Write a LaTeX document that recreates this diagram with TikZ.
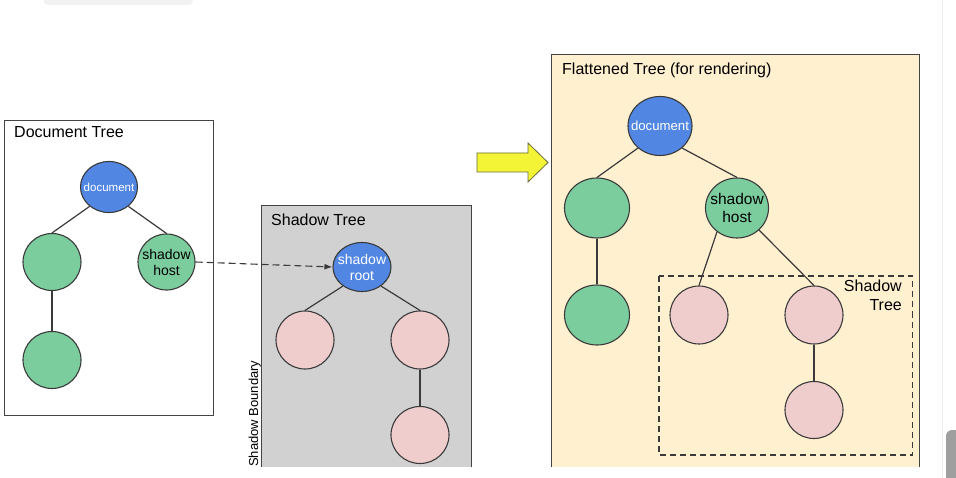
\documentclass[tikz,border=0pt]{standalone}
\usepackage{fontspec}
\setmainfont{Liberation Sans}
\usetikzlibrary{shapes.geometric,arrows.meta}
\definecolor{nodeblue}{HTML}{5187E2}
\definecolor{nodegreen}{HTML}{7CCD9E}
\definecolor{nodepink}{HTML}{EFCDCD}
\definecolor{shadowgray}{HTML}{D1D1D1}
\definecolor{flatyellow}{HTML}{FFF0D0}
\definecolor{linegray}{HTML}{3A3A3A}
\definecolor{panelgray}{HTML}{444444}
\definecolor{arrowyellow}{HTML}{F4F436}
\definecolor{arrowborder}{HTML}{6B6B3A}
\tikzset{
  treenode/.style={ellipse,draw=linegray,line width=1.1pt,inner sep=0pt},
  bluenode/.style={treenode,fill=nodeblue},
  greennode/.style={treenode,fill=nodegreen},
  pinknode/.style={treenode,fill=nodepink},
  edge/.style={draw=linegray,line width=1.2pt},
  panel/.style={draw=panelgray,line width=1pt},
  title/.style={anchor=base west,inner sep=0pt,font=\fontsize{16}{18}\selectfont},
}
\begin{document}
\begin{tikzpicture}[x=1pt,y=-1pt]
\useasboundingbox (0,0) rectangle (956,478);
\fill[white] (0,0) rectangle (956,478);
% screenshot artifacts
\fill[gray!10,rounded corners=4pt] (44,-6) rectangle (193,5);
\draw[gray!15,line width=1pt] (942.5,0) -- (942.5,478);
\fill[gray!75,rounded corners=6pt] (946,430) rectangle (970,490);

% Document tree panel
\draw[panel,fill=white] (4,121) rectangle (213,415);
\node[title] (tdoc) at (14,138) {Document Tree};
\node[bluenode,minimum width=57pt,minimum height=51pt] (d1) at (109,187) {};
\node[inner sep=0pt,text=white,font=\fontsize{11.5}{12}\selectfont] (d1t) at (d1.center) {document};
\node[greennode,minimum width=58pt,minimum height=57pt] (d2) at (52,262) {};
\node[greennode,minimum width=57pt,minimum height=56pt] (d3) at (166.5,262) {};
\node[inner sep=0pt,align=center,font=\fontsize{14}{16}\selectfont] (d3t) at (d3.center) {shadow\\host};
\node[greennode,minimum width=58pt,minimum height=57pt] (d4) at (52,360) {};
\draw[edge] (d1.225) -- (d2.north);
\draw[edge] (d1.-45) -- (d3.north);
\draw[edge] (d2.south) -- (d4.north);

% Shadow tree panel
\fill[shadowgray] (261.5,206) rectangle (471.5,467);
\draw[panel] (261.5,467) -- (261.5,206) -- (471.5,206) -- (471.5,467);
\node[title] (tsh) at (271,226) {Shadow Tree};
\node[rotate=90,anchor=base west,inner sep=0pt,font=\fontsize{13}{14}\selectfont] (bnd) at (258,467) {Shadow Boundary};
\node[bluenode,minimum width=58pt,minimum height=49pt] (s1) at (362,267) {};
\node[inner sep=0pt,align=center,text=white,font=\fontsize{14}{16}\selectfont] (s1t) at (s1.center) {shadow\\root};
\node[pinknode,minimum width=58pt,minimum height=58pt] (s2) at (305,340) {};
\node[pinknode,minimum width=58pt,minimum height=58pt] (s3) at (420,340) {};
\node[pinknode,minimum width=58pt,minimum height=57pt] (s4) at (420,435) {};
\draw[edge] (s1.225) -- (s2.north);
\draw[edge] (s1.-45) -- (s3.north);
\draw[edge] (s3.south) -- (s4.north);

% dashed link
\draw[linegray,line width=1.1pt,dash pattern=on 7pt off 4pt,-{Latex[length=8pt,width=6pt]}] (d3.east) -- (s1.west);

% yellow arrow
\draw[arrowborder,line width=0.8pt,fill=arrowyellow,line join=miter]
  (477,153) -- (528,153) -- (528,143) -- (548,162.5) -- (528,182) -- (528,172) -- (477,172) -- cycle;

% Flattened tree panel
\fill[flatyellow] (551,55) rectangle (919.5,467);
\draw[panel] (551,467) -- (551,55) -- (919.5,55) -- (919.5,467);
\node[title] (tfl) at (562,75) {Flattened Tree (for rendering)};
\node[bluenode,minimum width=64pt,minimum height=59pt] (f1) at (660,126) {};
\node[inner sep=0pt,text=white,font=\fontsize{13.2}{14}\selectfont] (f1t) at (f1.center) {document};
\node[greennode,minimum width=65pt,minimum height=60pt] (f2) at (597,208) {};
\node[greennode,minimum width=63pt,minimum height=60pt] (f3) at (737,208) {};
\node[inner sep=0pt,align=center,font=\fontsize{15.5}{18}\selectfont] (f3t) at (f3.center) {shadow\\host};
\node[greennode,minimum width=65pt,minimum height=60pt] (f4) at (597,315) {};
\node[pinknode,minimum width=58pt,minimum height=58pt] (f5) at (699,315) {};
\node[pinknode,minimum width=58pt,minimum height=58pt] (f6) at (814,315) {};
\node[pinknode,minimum width=58pt,minimum height=57pt] (f7) at (814,410) {};
\draw[edge] (f1.225) -- (f2.north);
\draw[edge] (f1.-45) -- (f3.north);
\draw[edge] (f2.south) -- (f4.north);
\draw[edge] (f3.230) -- (f5.north);
\draw[edge] (f3.-45) -- (f6.north);
\draw[edge] (f6.south) -- (f7.north);
\draw[linegray,line width=1.1pt,dash pattern=on 6pt off 4pt] (659,276) rectangle (912.5,455);
\node[anchor=north east,align=right,inner sep=0pt,font=\fontsize{16}{19}\selectfont] (tst) at (902,280) {Shadow\\Tree};
\end{tikzpicture}
\end{document}
